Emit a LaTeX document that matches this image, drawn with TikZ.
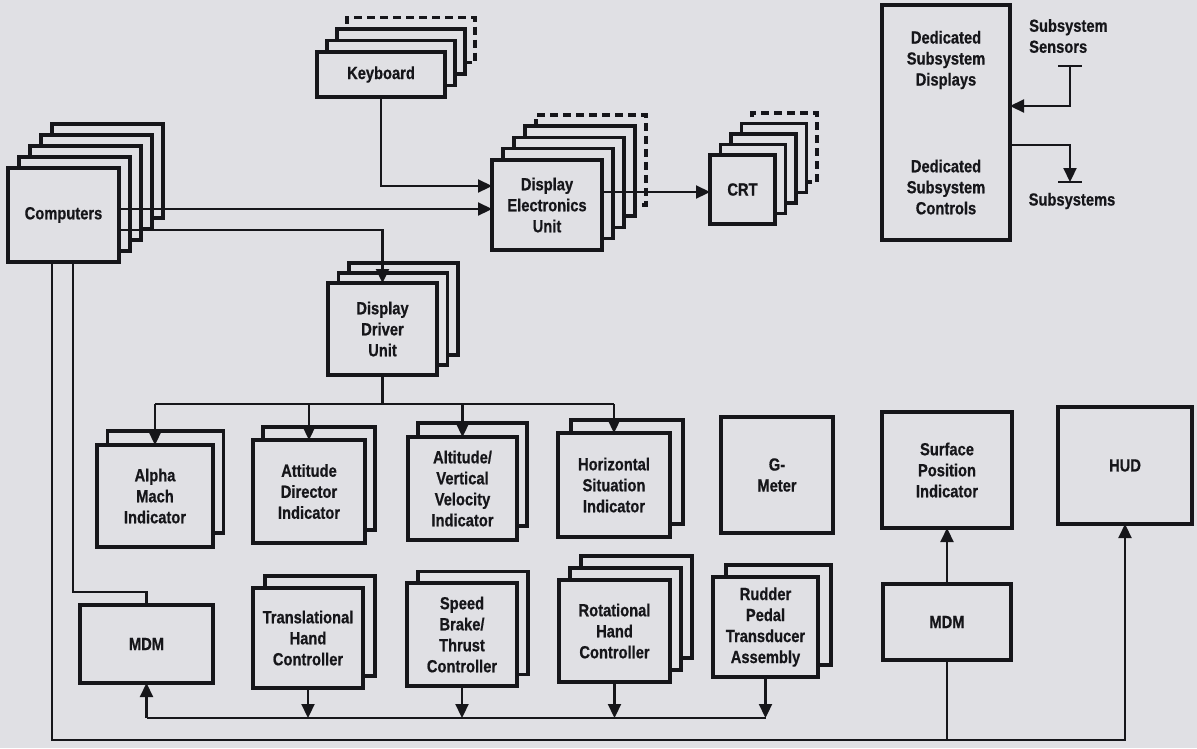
\documentclass[tikz,border=0pt]{standalone}
\usepackage{fontspec}
\newfontfamily\lab{Liberation Sans}[FakeStretch=0.84,FakeBold=0.7]
\usetikzlibrary{arrows.meta,backgrounds}
\definecolor{bg}{RGB}{224,224,228}
\definecolor{ink}{RGB}{22,22,26}
\tikzset{
  frame/.style={draw=ink,line width=3.5pt,fill=bg},
  dashframe/.style={frame,dash pattern=on 8pt off 5pt},
  box/.style={frame,inner sep=0pt,outer sep=0pt,align=center,text=ink,
    font=\lab\bfseries\fontsize{17.5}{21}\selectfont},
  txt/.style={inner sep=0pt,align=center,text=ink,
    font=\lab\bfseries\fontsize{17.5}{21}\selectfont},
  conn/.style={draw=ink,line width=2.2pt},
  arr/.style={conn,-{Triangle[length=14pt,width=13pt]}},
}
% #1 node, #2 descending list of layer numbers, #3 dx, #4 dy, #5 number of dashed layer (0 = none)
\newcommand\backs[5]{%
  \foreach \k in {#2}{%
    \ifnum\k=#5\relax
      \draw[dashframe] ([shift={(\k*#3,-\k*#4)}]#1.south west) rectangle ([shift={(\k*#3,-\k*#4)}]#1.north east);
    \else
      \draw[frame] ([shift={(\k*#3,-\k*#4)}]#1.south west) rectangle ([shift={(\k*#3,-\k*#4)}]#1.north east);
    \fi}}
\begin{document}
\begin{tikzpicture}[x=1pt,y=-1pt]
\useasboundingbox (0,0) rectangle (1197,748);
\begin{pgfonlayer}{background}
  \fill[bg] (0,0) rectangle (1197,748);
\end{pgfonlayer}

% ---------- front boxes ----------
\node[box,minimum width=111pt,minimum height=94pt] (comp) at (63.5,215) {Computers};
\node[box,minimum width=128pt,minimum height=45pt] (kbd) at (381,74.5) {Keyboard};
\node[box,minimum width=110pt,minimum height=90pt] (deu) at (547,205) {Display\\Electronics\\Unit};
\node[box,minimum width=65pt,minimum height=69pt] (crt) at (742.5,189.5) {CRT};
\node[box,minimum width=128pt,minimum height=235pt] (dsd) at (946,122.5) {};
\node[txt] (dsdd) at (946,60) {Dedicated\\Subsystem\\Displays};
\node[txt] (dsdc) at (946,187) {Dedicated\\Subsystem\\Controls};
\node[txt,anchor=west,align=left] (sens) at (1029,36) {Subsystem\\Sensors};
\node[txt] (subs) at (1072,201) {Subsystems};
\node[box,minimum width=109pt,minimum height=92pt] (ddu) at (382.5,329) {Display\\Driver\\Unit};

\node[box,minimum width=116pt,minimum height=102pt] (am) at (155,496) {Alpha\\Mach\\Indicator};
\node[box,minimum width=112pt,minimum height=103pt] (adi) at (309,491.5) {Attitude\\Director\\Indicator};
\node[box,minimum width=109pt,minimum height=103pt] (avvi) at (462.5,488.5) {Altitude/\\Vertical\\Velocity\\Indicator};
\node[box,minimum width=112pt,minimum height=104pt] (hsi) at (614,485) {Horizontal\\Situation\\Indicator};
\node[box,minimum width=112pt,minimum height=116pt] (gm) at (777,475) {G-\\Meter};
\node[box,minimum width=130pt,minimum height=116pt] (spi) at (947,470) {Surface\\Position\\Indicator};
\node[box,minimum width=134pt,minimum height=117pt] (hud) at (1125,465.5) {HUD};

\node[box,minimum width=133pt,minimum height=78pt] (mdma) at (146.5,644) {MDM};
\node[box,minimum width=110pt,minimum height=100pt] (thc) at (308,638) {Translational\\Hand\\Controller};
\node[box,minimum width=110pt,minimum height=103pt] (sbt) at (462,634.5) {Speed\\Brake/\\Thrust\\Controller};
\node[box,minimum width=111pt,minimum height=102pt] (rhc) at (614.5,631) {Rotational\\Hand\\Controller};
\node[box,minimum width=105pt,minimum height=100pt] (rpta) at (765.5,627) {Rudder\\Pedal\\Transducer\\Assembly};
\node[box,minimum width=128pt,minimum height=76pt] (mdmb) at (947,622) {MDM};

% ---------- stacked back layers ----------
\begin{pgfonlayer}{background}
  \backs{comp}{4,3,2,1}{11}{11}{0}
  \backs{kbd}{3,2,1}{10}{11.5}{3}
  \backs{deu}{4,3,2,1}{11}{11.3}{4}
  \backs{crt}{4,3,2,1}{10.5}{10.5}{4}
  \backs{ddu}{2,1}{10.5}{10}{0}
  \backs{am}{1}{10.5}{14}{0}
  \backs{adi}{1}{10}{13}{0}
  \backs{avvi}{1}{10}{14}{0}
  \backs{hsi}{1}{13}{13}{0}
  \backs{thc}{1}{12}{12}{0}
  \backs{sbt}{1}{11}{11.5}{0}
  \backs{rhc}{2,1}{11}{12}{0}
  \backs{rpta}{1}{13}{12}{0}
\end{pgfonlayer}

% ---------- coordinates ----------
\coordinate (c1) at ([xshift=44pt]comp.south west);
\coordinate (c2) at ([xshift=65pt]comp.south west);
\coordinate (bus) at (0,404);
\coordinate (busb) at (0,718);
\coordinate (outer) at (0,740);
\coordinate (sensT) at (1070,66);
\coordinate (sensJ) at (1070,106);
\coordinate (subT) at (1070,182);

% ---------- connectors (top) ----------
\draw[arr] (kbd.south) |- (deu.west |- 0,186);
\draw[arr] (comp.east |- 0,209) -- (deu.west |- 0,209);
\draw[arr] (comp.east |- 0,230) -| (ddu.north);
\draw[arr] (deu.east |- 0,192) -- (crt.west |- 0,192);

\draw[conn] ([xshift=-12pt]sensT) -- ([xshift=12pt]sensT);
\draw[arr] (sensT) -- (sensJ) -- (sensJ -| dsd.east);
\draw[arr] (dsd.east |- 0,145) -| (subT);
\draw[conn] ([xshift=-12pt]subT) -- ([xshift=12pt]subT);

% ---------- display driver bus ----------
\draw[conn] (ddu.south) -- (ddu.south |- bus);
\draw[conn] (am.north |- bus) -- (hsi.north |- bus);
\foreach \n in {am,adi,avvi,hsi}
  \draw[arr] (\n.north |- bus) -- (\n.north);

% ---------- controller bus ----------
\draw[conn] (mdma.south |- busb) -- (rpta.south |- busb);
\foreach \n in {thc,sbt,rhc,rpta}
  \draw[arr] (\n.south) -- (\n.south |- busb);
\draw[arr] (mdma.south |- busb) -- (mdma.south);

% ---------- computer lines to MDMs and HUD ----------
\draw[conn] (c2) |- (mdma.north |- 0,592) -- (mdma.north);
\draw[arr] (c1) |- (hud.south |- outer) -- (hud.south);
\draw[conn] (mdmb.south) -- (mdmb.south |- outer);
\draw[arr] (mdmb.north) -- (mdmb.north |- spi.south);
\end{tikzpicture}
\end{document}
